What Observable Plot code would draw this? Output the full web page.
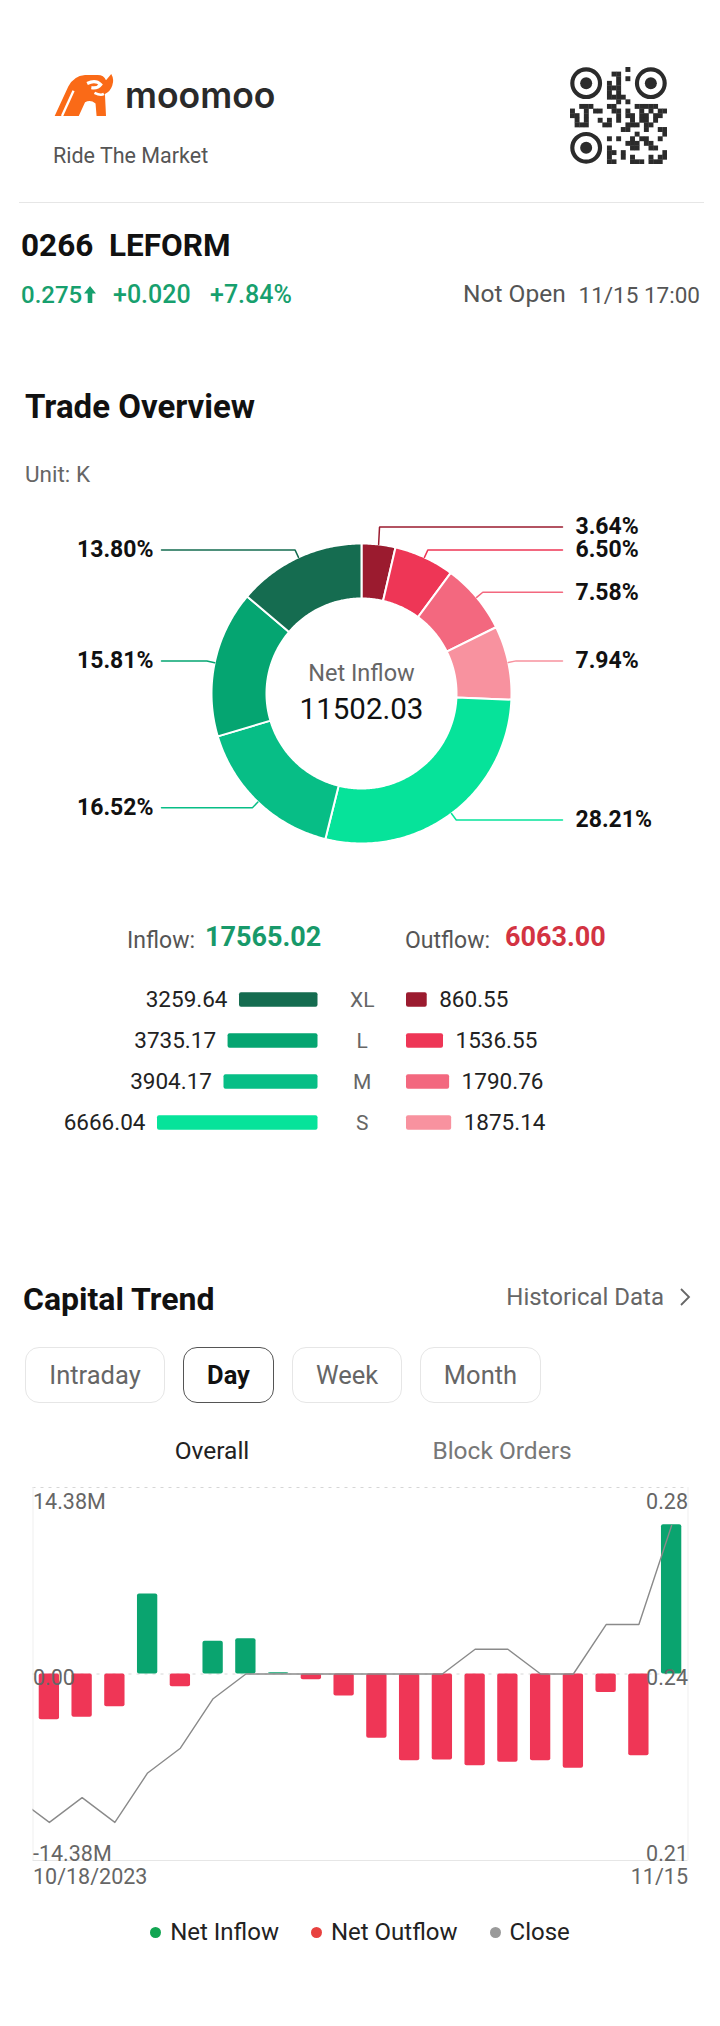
<!DOCTYPE html>
<html>
<head>
<meta charset="utf-8">
<script src="https://cdn.jsdelivr.net/npm/d3@7"></script>
<script src="https://cdn.jsdelivr.net/npm/@observablehq/plot@0.6"></script>
<style>
html,body{margin:0;padding:0;background:#fff;}
#page{position:relative;width:720px;height:2026px;overflow:hidden;font-family:Roboto,"Noto Sans",sans-serif;background:#fff;}
.abs{position:absolute;white-space:pre;}
.tab{position:absolute;box-sizing:border-box;border:1.5px solid #e6e6e6;border-radius:14px;display:flex;align-items:center;justify-content:center;font-size:25.5px;color:#666;}
.tab.sel{border-color:#555;color:#111;font-weight:700;}
.legend{position:absolute;left:0;width:720px;top:1918px;display:flex;justify-content:center;align-items:center;font-size:24px;color:#222;}
.legend .it{display:flex;align-items:center;margin:0 16px;}
.legend .dot{width:11px;height:11px;border-radius:50%;margin-right:9px;}
</style>
</head>
<body>
<div id="page"></div>
<script>
// ================= DATA =================
const tickerText = "0266  LEFORM";
const lastPrice = "0.275";
const priceChange = "+0.020";
const priceChangePct = "+7.84%";
const marketStatus = "Not Open";
const quoteTime = "11/15 17:00";

// order sizes
const sizeCats = ["XL", "L", "M", "S"];
const inflowValues = [3259.64, 3735.17, 3904.17, 6666.04];
const outflowValues = [860.55, 1536.55, 1790.76, 1875.14];
const inflowTotal = "17565.02";
const outflowTotal = "6063.00";
const netInflowTotal = "11502.03";

// donut slices, clockwise from 12 o'clock
const sliceNames = ["Outflow XL", "Outflow L", "Outflow M", "Outflow S", "Inflow S", "Inflow M", "Inflow L", "Inflow XL"];
const slicePercents = [3.64, 6.50, 7.58, 7.94, 28.21, 16.52, 15.81, 13.80];

// capital trend (daily)
const trendDates = ["10/18","10/19","10/20","10/24","10/25","10/26","10/27","10/30","10/31","11/01",
                    "11/02","11/03","11/06","11/07","11/08","11/09","11/10","11/13","11/14","11/15"];
const netFlowM = [-3.52, -3.34, -2.52, 6.17, -0.98, 2.52, 2.72, 0.10, -0.44, -1.70,
                  -4.96, -6.68, -6.63, -7.07, -6.81, -6.68, -7.27, -1.42, -6.30, 11.50];
const closePrices = [0.215, 0.220, 0.215, 0.225, 0.230, 0.240, 0.245, 0.245, 0.245, 0.245,
                     0.245, 0.245, 0.245, 0.250, 0.250, 0.245, 0.245, 0.255, 0.255, 0.275];
const priorClose = 0.220; // 10/17, only its segment is visible at the left edge
const flowAxisMax = 14.38;
const leftTickValues = [14.38, 0, -14.38];
const leftTickLabels = ["14.38M", "0.00", "-14.38M"];
const rightTickLabels = ["0.28", "0.24", "0.21"];
const priceAxisMid = 0.245, priceAxisHalf = 0.0377;
const dateLabels = ["10/18/2023", "11/15"];
const legendNames = ["Net Inflow", "Net Outflow", "Close"];

// ================= STYLE =================
const sliceColors = ["#9b1b2f", "#ee3656", "#f3687f", "#f8929f", "#06e39a", "#07be86", "#05a571", "#156c50"];
const inflowColors = ["#156c50", "#05a571", "#07be86", "#06e39a"];
const outflowColors = ["#9b1b2f", "#ee3656", "#f3687f", "#f8929f"];
const upGreen = "#17a06e", barGreen = "#0aa46f", barRed = "#ef3656";
const legendColors = ["#12a552", "#e8413f", "#9a9a9a"];

const page = document.getElementById("page");
function txt(s, x, base, size, o = {}) {
  const d = document.createElement("div");
  d.className = "abs";
  d.textContent = s;
  d.style.fontSize = size + "px";
  d.style.lineHeight = size + "px";
  d.style.top = (base - 0.842 * size) + "px";
  d.style.color = o.color || "#111";
  if (o.weight) d.style.fontWeight = o.weight;
  if (o.family) d.style.fontFamily = o.family;
  if (o.ls) d.style.letterSpacing = o.ls;
  const a = o.anchor || "start";
  if (a === "start") d.style.left = x + "px";
  else if (a === "end") d.style.right = (720 - x) + "px";
  else { d.style.left = x + "px"; d.style.transform = "translateX(-50%)"; }
  page.appendChild(d);
  return d;
}
function place(el, left, top) {
  const w = document.createElement("div");
  w.className = "abs";
  w.style.left = left + "px";
  w.style.top = top + "px";
  w.appendChild(el);
  page.appendChild(w);
  return w;
}
const NS = "http://www.w3.org/2000/svg";
function svgEl(w, h, inner, vw, vh) {
  const s = document.createElementNS(NS, "svg");
  s.setAttribute("width", w); s.setAttribute("height", h);
  s.setAttribute("viewBox", `0 0 ${vw || w} ${vh || h}`);
  s.innerHTML = inner;
  s.style.display = "block";
  return s;
}

// ================= HEADER =================
// logo icon
place(svgEl(64, 44, `
  <path d="M2,41 L15,13 Q20,3 31,2 L43,2 Q49,2 51,7 L56,1 Q59,6 57,12 Q55,18 50,20 L51,41 L42,41 L41,29 Q36,25 31,28 L25,41 Z" fill="#fa6a17"/>
  <path d="M9,41 L20,17" stroke="#fff" stroke-width="2.2"/>
  <path d="M33,10 Q41,6 46,11 Q43,15 37,14" fill="none" stroke="#fff" stroke-width="3"/>
  <path d="M40,19 Q46,22 49,20" fill="none" stroke="#fff" stroke-width="2.5"/>
`, 60, 42), 52, 73);
txt("moomoo", 125, 108, 35.5, { color: "#2a2a2a", weight: 600, family: "Inter" });
txt("Ride The Market", 53, 163, 21.5, { color: "#555" });

// QR code (decorative)
(function () {
  const n = 21, size = 97, m = size / n;
  let inner = "";
  const inFinder = (r, c) => (r < 8 && c < 8) || (r < 8 && c >= n - 8) || (r >= n - 8 && c < 8);
  for (let r = 0; r < n; r++) for (let c = 0; c < n; c++) {
    if (inFinder(r, c)) continue;
    const b = ((r * r * 3 + c * 5 + r * c * 7 + (r ^ c)) % 7) < 3;
    if (b) inner += `<rect x="${(c * m).toFixed(2)}" y="${(r * m).toFixed(2)}" width="${(m + 0.3).toFixed(2)}" height="${(m + 0.3).toFixed(2)}" fill="#2b2b2b"/>`;
  }
  for (const [r, c] of [[3.5, 3.5], [3.5, n - 3.5], [n - 3.5, 3.5]]) {
    inner += `<circle cx="${c * m}" cy="${r * m}" r="${m * 3.0}" fill="none" stroke="#2b2b2b" stroke-width="${m * 0.9}"/>`;
    inner += `<circle cx="${c * m}" cy="${r * m}" r="${m * 1.3}" fill="#2b2b2b"/>`;
  }
  place(svgEl(size, size, inner), 570, 67);
})();

// separator
(function () {
  const d = document.createElement("div");
  d.className = "abs";
  Object.assign(d.style, { left: "19px", top: "202px", width: "685px", height: "1px", background: "#e6e6e6" });
  page.appendChild(d);
})();

txt(tickerText, 21, 257, 31.5, { weight: 700, color: "#111" });
txt(lastPrice, 21, 303, 24, { weight: 500, color: upGreen });
place(svgEl(12, 17, `<path d="M6,0 L12,7.5 L8.3,7.5 L8.3,17 L3.7,17 L3.7,7.5 L0,7.5 Z" fill="${upGreen}"/>`), 84, 286);
txt(priceChange, 113, 303, 25, { weight: 500, color: upGreen });
txt(priceChangePct, 210, 303, 25, { weight: 500, color: upGreen });
txt(marketStatus, 463, 303, 24.5, { color: "#555" });
txt(quoteTime, 700, 303, 22.5, { color: "#555", anchor: "end" });

// ================= TRADE OVERVIEW =================
txt("Trade Overview", 25, 418, 33, { weight: 700 });
txt("Unit: K", 25, 482, 22.5, { color: "#666" });

(function () {
  const cx = 361, cy = 693, top = 500, H = 360;
  const R0 = 95, R1 = 150, R2 = 158, edgeR = 201, edgeL = -200, textR = 214, textL = -208;
  const total = d3.sum(slicePercents);
  let acc = 0;
  const slices = slicePercents.map((p, i) => {
    const a0 = acc / total * 2 * Math.PI; acc += p;
    const a1 = acc / total * 2 * Math.PI;
    return { i, p, a0, a1, mid: (a0 + a1) / 2 };
  });
  const poly = [];
  slices.forEach(s => {
    const n = Math.max(10, Math.ceil((s.a1 - s.a0) * 80));
    for (let k = 0; k <= n; k++) { const a = s.a0 + (s.a1 - s.a0) * k / n; poly.push({ i: s.i, x: R1 * Math.sin(a), y: -R1 * Math.cos(a) }); }
    for (let k = n; k >= 0; k--) { const a = s.a0 + (s.a1 - s.a0) * k / n; poly.push({ i: s.i, x: R0 * Math.sin(a), y: -R0 * Math.cos(a) }); }
  });
  const labs = slices.map(s => ({
    ...s, right: Math.sin(s.mid) >= 0,
    x1: R1 * Math.sin(s.mid), y1: -R1 * Math.cos(s.mid),
    x2: R2 * Math.sin(s.mid), y2: -R2 * Math.cos(s.mid)
  }));
  for (const side of [true, false]) {
    const g = labs.filter(l => l.right === side).sort((a, b) => b.y2 - a.y2);
    let prev = Infinity;
    g.forEach(l => { l.ly = Math.min(l.y2, prev - 23); prev = l.ly; });
  }
  const lead = [];
  labs.forEach(l => {
    lead.push({ i: l.i, x: l.x1, y: l.y1 });
    lead.push({ i: l.i, x: l.x2, y: l.ly });
    lead.push({ i: l.i, x: l.right ? edgeR : edgeL, y: l.ly });
  });
  const centerText = [
    { t: "Net Inflow", x: 0, y: -20 },
    { t: netInflowTotal, x: 0, y: 16 }
  ];
  const chart = Plot.plot({
    width: 720, height: H, margin: 0,
    x: { domain: [-cx, 720 - cx], range: [0, 720], axis: null },
    y: { domain: [-(cy - top), top + H - cy], range: [0, H], axis: null },
    style: { fontFamily: "Roboto", background: "transparent", overflow: "visible" },
    marks: [
      Plot.line(poly, { x: "x", y: "y", z: "i", fill: d => sliceColors[d.i], stroke: "#fff", strokeWidth: 2, curve: "linear-closed" }),
      Plot.line(lead, { x: "x", y: "y", z: "i", stroke: d => sliceColors[d.i], strokeWidth: 1.5, strokeLinejoin: "miter" }),
      Plot.text(labs.filter(d => d.right), { x: textR, y: "ly", text: d => d.p.toFixed(2) + "%", textAnchor: "start", fontSize: 23, fontWeight: 700, fill: "#111" }),
      Plot.text(labs.filter(d => !d.right), { x: textL, y: "ly", text: d => d.p.toFixed(2) + "%", textAnchor: "end", fontSize: 23, fontWeight: 700, fill: "#111" }),
      Plot.text(centerText.slice(0, 1), { x: "x", y: "y", text: "t", fontSize: 23.5, fill: "#666" }),
      Plot.text(centerText.slice(1), { x: "x", y: "y", text: "t", fontSize: 29.5, fill: "#111" })
    ]
  });
  place(chart, 0, top);
})();

// inflow / outflow summary
txt("Inflow: ", 127, 948, 23, { color: "#555" });
txt(inflowTotal, 205, 947, 27, { color: "#18996a", weight: 700 });
txt("Outflow: ", 405, 948, 23, { color: "#555" });
txt(outflowTotal, 505, 947, 27, { color: "#d33342", weight: 700 });

(function () {
  const top = 970, H = 180, inAnchor = 317.5, outAnchor = 406, maxBarPx = 160.5;
  const rowStep = 41.7, firstRow = 998, barH = 15;
  const k = maxBarPx / d3.max([...inflowValues, ...outflowValues]);
  const gapU = (outAnchor - inAnchor) / k;
  const rows = sizeCats.map((c, i) => ({ c, i, inflow: inflowValues[i], outflow: outflowValues[i] }));
  const y0 = firstRow - rowStep / 2 - top;
  const chart = Plot.plot({
    width: 720, height: H, margin: 0,
    x: { domain: [-inAnchor / k, (720 - inAnchor) / k], range: [0, 720], axis: null },
    y: { type: "band", domain: sizeCats, range: [y0, y0 + rowStep * sizeCats.length], padding: 0, axis: null },
    style: { fontFamily: "Roboto", background: "transparent" },
    marks: [
      Plot.barX(rows, { x1: d => -d.inflow, x2: 0, y: "c", fill: d => inflowColors[d.i], rx: 2, insetTop: (rowStep - barH) / 2, insetBottom: (rowStep - barH) / 2 }),
      Plot.barX(rows, { x1: gapU, x2: d => gapU + d.outflow, y: "c", fill: d => outflowColors[d.i], rx: 2, insetTop: (rowStep - barH) / 2, insetBottom: (rowStep - barH) / 2 }),
      Plot.text(rows, { x: d => -d.inflow, y: "c", text: d => d.inflow.toFixed(2), textAnchor: "end", dx: -12, fontSize: 22.5, fill: "#222" }),
      Plot.text(rows, { x: d => gapU + d.outflow, y: "c", text: d => d.outflow.toFixed(2), textAnchor: "start", dx: 12, fontSize: 22.5, fill: "#222" }),
      Plot.text(rows, { x: gapU / 2, y: "c", text: "c", fontSize: 21, fill: "#666" })
    ]
  });
  place(chart, 0, top);
})();

// ================= CAPITAL TREND =================
txt("Capital Trend", 23, 1310, 32, { weight: 700 });
txt("Historical Data", 664, 1305, 24, { color: "#666", anchor: "end" });
place(svgEl(14, 20, `<polyline points="3,2 11,10 3,18" fill="none" stroke="#666" stroke-width="1.8"/>`), 678, 1287);

[["Intraday", 25, 140, false], ["Day", 183, 91, true], ["Week", 292, 110, false], ["Month", 420, 121, false]].forEach(([t, x, w, sel]) => {
  const d = document.createElement("div");
  d.className = "tab" + (sel ? " sel" : "");
  Object.assign(d.style, { left: x + "px", top: "1347px", width: w + "px", height: "56px" });
  d.textContent = t;
  page.appendChild(d);
});
txt("Overall", 212, 1460, 24.5, { color: "#222", anchor: "middle" });
txt("Block Orders", 502, 1460, 24.5, { color: "#777", anchor: "middle" });

(function () {
  const top = 1470, H = 430;
  const flows = netFlowM.map((v, i) => ({ i, v, date: trendDates[i] }));
  const prices = [{ i: -1, p: priorClose }, ...closePrices.map((p, i) => ({ i, p }))];
  const toFlow = p => (p - priceAxisMid) / priceAxisHalf * flowAxisMax;
  const ticks = leftTickValues.map((v, j) => ({ v, l: leftTickLabels[j], r: rightTickLabels[j], dy: [14.3, 4, -6.7][j] }));
  const chart = Plot.plot({
    width: 720, height: H,
    marginLeft: 32.5, marginRight: 32.5, marginTop: 17, marginBottom: 40,
    x: { domain: [-0.5, netFlowM.length - 0.5], axis: null },
    y: { domain: [-flowAxisMax, flowAxisMax], axis: null },
    style: { fontFamily: "Roboto", background: "transparent", overflow: "visible" },
    marks: [
      Plot.ruleY([flowAxisMax, 0], { stroke: "#d6d6d6", strokeDasharray: "3,5" }),
      Plot.ruleY([-flowAxisMax], { stroke: "#e6e6e6" }),
      Plot.ruleX([-0.5, netFlowM.length - 0.5], { stroke: "#efefef" }),
      Plot.rectY(flows, { x1: d => d.i - 0.31, x2: d => d.i + 0.31, y1: 0, y2: "v", fill: d => d.v >= 0 ? barGreen : barRed, rx: 2 }),
      Plot.line(prices, { x: "i", y: d => toFlow(d.p), stroke: "#8a8a8a", strokeWidth: 1.4, clip: true }),
      ...ticks.map(t => Plot.text([t], { x: -0.5, y: "v", text: "l", textAnchor: "start", dy: t.dy, fontSize: 21.5, fill: "#666" })),
      ...ticks.map(t => Plot.text([t], { x: netFlowM.length - 0.5, y: "v", text: "r", textAnchor: "end", dy: t.dy, fontSize: 21.5, fill: "#666" })),
      Plot.text([dateLabels[0]], { x: -0.5, y: -flowAxisMax, text: d => d, textAnchor: "start", dy: 16.3, fontSize: 21.5, fill: "#666" }),
      Plot.text([dateLabels[1]], { x: netFlowM.length - 0.5, y: -flowAxisMax, text: d => d, textAnchor: "end", dy: 16.3, fontSize: 21.5, fill: "#666" })
    ]
  });
  place(chart, 0, top);
})();

// legend
(function () {
  const lg = document.createElement("div");
  lg.className = "legend";
  legendNames.forEach((n, i) => {
    const it = document.createElement("div");
    it.className = "it";
    it.innerHTML = `<span class="dot" style="background:${legendColors[i]}"></span><span>${n}</span>`;
    lg.appendChild(it);
  });
  page.appendChild(lg);
})();
</script>
</body>
</html>
